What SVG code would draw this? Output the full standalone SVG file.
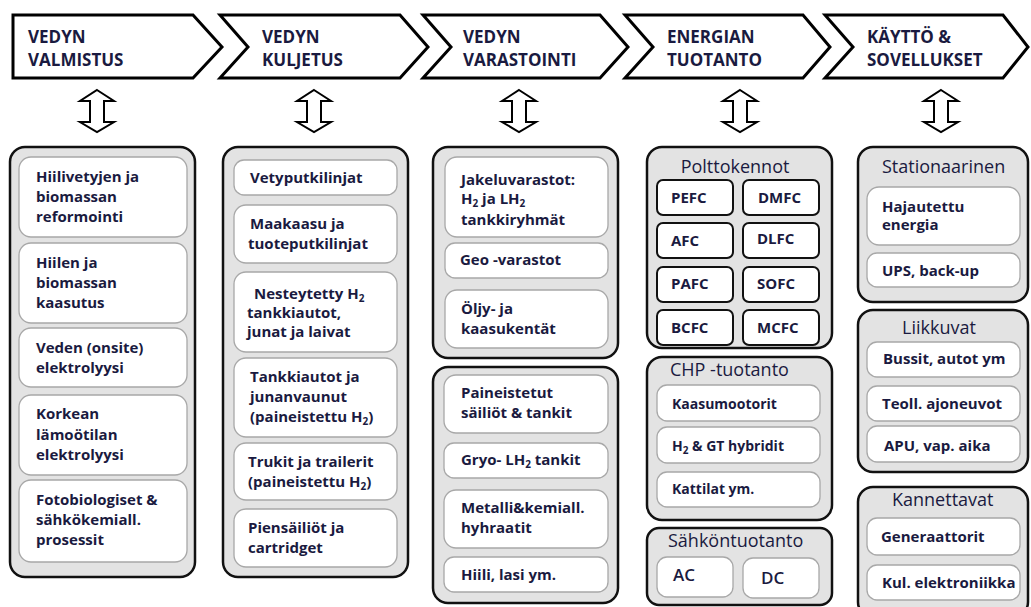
<svg xmlns="http://www.w3.org/2000/svg" width="1031" height="607" viewBox="0 0 1031 607">
<style>
.chev{fill:#fff;stroke:#000;stroke-width:3;stroke-linejoin:miter}
.hdr{font-family:"Open Sans",sans-serif;font-weight:bold;font-size:17px;fill:#1a1a40}
.outer{fill:#e3e3e3;stroke:#111;stroke-width:2.5}
.inner{fill:#fff;stroke:#a8a8a8;stroke-width:1.3}
.fc{fill:#fff;stroke:#111;stroke-width:2}
.t{font-family:"Open Sans",sans-serif;font-weight:bold;font-size:15px;fill:#1a1a40}
.s{font-size:14px}
.ttl{font-family:"Open Sans",sans-serif;font-weight:normal;font-size:18px;fill:#1a1a40}
.ac{font-family:"Open Sans",sans-serif;font-weight:600;font-size:17px;fill:#1a1a40}
.dbl{fill:#fff;stroke:#000;stroke-width:2;stroke-linejoin:miter}
.sub{font-size:10px}
</style>
<defs>
<path id="darr" d="M0,90 L17,101 L7,101 L7,122 L17,122 L0,132 L-17,122 L-7,122 L-7,101 L-17,101 Z"/>
</defs>

<g id="headers">
<g id="h1"><path class="chev" d="M13,15 L193,15 L222,47 L193,78 L13,78 Z"/><text class="hdr" x="28" y="43">VEDYN</text><text class="hdr" x="28" y="66">VALMISTUS</text></g>
<g id="h2"><path class="chev" d="M220,15 L400,15 L428,47 L400,78 L220,78 L248,47 Z"/><text class="hdr" x="262" y="43">VEDYN</text><text class="hdr" x="262" y="66">KULJETUS</text></g>
<g id="h3"><path class="chev" d="M423,15 L600,15 L628,47 L600,78 L423,78 L451,47 Z"/><text class="hdr" x="463" y="43">VEDYN</text><text class="hdr" x="463" y="66">VARASTOINTI</text></g>
<g id="h4"><path class="chev" d="M625,15 L803,15 L830,47 L803,78 L625,78 L653,47 Z"/><text class="hdr" x="667" y="43">ENERGIAN</text><text class="hdr" x="667" y="66">TUOTANTO</text></g>
<g id="h5"><path class="chev" d="M825,15 L1003,15 L1028,47 L1003,78 L825,78 L853,47 Z"/><text class="hdr" x="867" y="43">KÄYTTÖ &amp;</text><text class="hdr" x="867" y="66">SOVELLUKSET</text></g>
</g>

<g id="connectors">
<use href="#darr" class="dbl" x="97" y="0"/>
<use href="#darr" class="dbl" x="314" y="0"/>
<use href="#darr" class="dbl" x="519" y="0"/>
<use href="#darr" class="dbl" x="740" y="0"/>
<use href="#darr" class="dbl" x="941" y="0"/>
</g>

<g id="col1">
<rect class="outer" x="10" y="147" width="185" height="430" rx="15"/>
<g id="c1b1"><rect class="inner" x="19" y="157" width="168" height="80" rx="12"/><text class="t" x="36" y="182">Hiilivetyjen ja</text><text class="t" x="36" y="202">biomassan</text><text class="t" x="36" y="222">reformointi</text></g>
<g id="c1b2"><rect class="inner" x="19" y="243" width="168" height="80" rx="12"/><text class="t" x="36" y="268">Hiilen ja</text><text class="t" x="36" y="288">biomassan</text><text class="t" x="36" y="308">kaasutus</text></g>
<g id="c1b3"><rect class="inner" x="19" y="328" width="168" height="59" rx="12"/><text class="t" x="36" y="353">Veden (onsite)</text><text class="t" x="36" y="373">elektrolyysi</text></g>
<g id="c1b4"><rect class="inner" x="19" y="395" width="168" height="80" rx="12"/><text class="t" x="36" y="419">Korkean</text><text class="t" x="36" y="440">lämoötilan</text><text class="t" x="36" y="460">elektrolyysi</text></g>
<g id="c1b5"><rect class="inner" x="19" y="480" width="168" height="82" rx="12"/><text class="t" x="36" y="505">Fotobiologiset &amp;</text><text class="t" x="36" y="525">sähkökemiall.</text><text class="t" x="36" y="545">prosessit</text></g>
</g>

<g id="col2">
<rect class="outer" x="223" y="147" width="185" height="430" rx="15"/>
<g id="c2b1"><rect class="inner" x="234" y="160" width="163" height="35" rx="10"/><text class="t" x="250" y="183">Vetyputkilinjat</text></g>
<g id="c2b2"><rect class="inner" x="234" y="205" width="163" height="58" rx="12"/><text class="t" x="250" y="229">Maakaasu ja</text><text class="t" x="248" y="249">tuoteputkilinjat</text></g>
<g id="c2b3"><rect class="inner" x="234" y="272" width="163" height="80" rx="12"/><text class="t" x="254" y="299">Nesteytetty H<tspan class="sub" dy="3">2</tspan></text><text class="t" x="247" y="318">tankkiautot,</text><text class="t" x="247" y="337">junat ja laivat</text></g>
<g id="c2b4"><rect class="inner" x="234" y="358" width="163" height="79" rx="12"/><text class="t" x="250" y="382">Tankkiautot ja</text><text class="t" x="250" y="402">junanvaunut</text><text class="t" x="250" y="422">(paineistettu H<tspan class="sub" dy="3">2</tspan><tspan dy="-3">)</tspan></text></g>
<g id="c2b5"><rect class="inner" x="234" y="443" width="163" height="57" rx="12"/><text class="t" x="248" y="467">Trukit ja trailerit</text><text class="t" x="248" y="487">(paineistettu H<tspan class="sub" dy="3">2</tspan><tspan dy="-3">)</tspan></text></g>
<g id="c2b6"><rect class="inner" x="234" y="509" width="163" height="58" rx="12"/><text class="t" x="248" y="533">Piensäiliöt ja</text><text class="t" x="248" y="553">cartridget</text></g>
</g>

<g id="col3a">
<rect class="outer" x="433" y="147" width="185" height="211" rx="15"/>
<g id="c3b1"><rect class="inner" x="445" y="157" width="163" height="80" rx="12"/><text class="t" x="461" y="185">Jakeluvarastot:</text><text class="t" x="461" y="204">H<tspan class="sub" dy="3">2</tspan><tspan dy="-3"> ja LH</tspan><tspan class="sub" dy="3">2</tspan></text><text class="t" x="461" y="225">tankkiryhmät</text></g>
<g id="c3b2"><rect class="inner" x="445" y="243" width="163" height="35" rx="10"/><text class="t" x="460" y="265">Geo -varastot</text></g>
<g id="c3b3"><rect class="inner" x="445" y="290" width="163" height="58" rx="12"/><text class="t" x="461" y="314">Öljy- ja</text><text class="t" x="461" y="334">kaasukentät</text></g>
</g>

<g id="col3b">
<rect class="outer" x="433" y="367" width="185" height="236" rx="15"/>
<g id="c3b4"><rect class="inner" x="444" y="375" width="164" height="58" rx="12"/><text class="t" x="461" y="398">Paineistetut</text><text class="t" x="461" y="418">säiliöt &amp; tankit</text></g>
<g id="c3b5"><rect class="inner" x="444" y="443" width="164" height="35" rx="10"/><text class="t" x="461" y="465">Gryo- LH<tspan class="sub" dy="3">2</tspan><tspan dy="-3"> tankit</tspan></text></g>
<g id="c3b6"><rect class="inner" x="444" y="490" width="164" height="58" rx="12"/><text class="t" x="461" y="513">Metalli&amp;kemiall.</text><text class="t" x="461" y="533">hyhraatit</text></g>
<g id="c3b7"><rect class="inner" x="444" y="557" width="164" height="35" rx="10"/><text class="t" x="461" y="580">Hiili, lasi ym.</text></g>
</g>

<g id="polttokennot">
<rect class="outer" x="647" y="147" width="185" height="201" rx="15"/>
<text class="ttl" x="735" y="173" text-anchor="middle">Polttokennot</text>
<g id="pefc"><rect class="fc" x="657" y="180" width="76" height="35" rx="6"/><text class="t" x="671" y="203">PEFC</text></g>
<g id="dmfc"><rect class="fc" x="743" y="180" width="76" height="35" rx="6"/><text class="t" x="758" y="203">DMFC</text></g>
<g id="afc"><rect class="fc" x="657" y="223" width="76" height="35" rx="6"/><text class="t" x="671" y="246">AFC</text></g>
<g id="dlfc"><rect class="fc" x="743" y="223" width="76" height="35" rx="6"/><text class="t" x="757" y="244">DLFC</text></g>
<g id="pafc"><rect class="fc" x="657" y="267" width="76" height="35" rx="6"/><text class="t" x="671" y="289">PAFC</text></g>
<g id="sofc"><rect class="fc" x="743" y="267" width="76" height="35" rx="6"/><text class="t" x="757" y="289">SOFC</text></g>
<g id="bcfc"><rect class="fc" x="657" y="310" width="76" height="35" rx="6"/><text class="t" x="671" y="333">BCFC</text></g>
<g id="mcfc"><rect class="fc" x="743" y="310" width="76" height="35" rx="6"/><text class="t" x="757" y="333">MCFC</text></g>
</g>

<g id="chp">
<rect class="outer" x="647" y="357" width="185" height="163" rx="15"/>
<text class="ttl" x="670" y="376">CHP -tuotanto</text>
<g id="chp1"><rect class="inner" x="657" y="385" width="163" height="36" rx="10"/><text class="t s" x="672" y="409">Kaasumootorit</text></g>
<g id="chp2"><rect class="inner" x="657" y="427" width="163" height="36" rx="10"/><text class="t s" x="672" y="451">H<tspan class="sub" dy="3">2</tspan><tspan dy="-3"> &amp; GT hybridit</tspan></text></g>
<g id="chp3"><rect class="inner" x="657" y="472" width="163" height="35" rx="10"/><text class="t s" x="672" y="494">Kattilat ym.</text></g>
</g>

<g id="sahko">
<rect class="outer" x="647" y="528" width="185" height="77" rx="12"/>
<text class="ttl" x="668" y="547">Sähköntuotanto</text>
<g id="ac"><rect class="inner" x="657" y="557" width="76" height="40" rx="10"/><text class="ac" x="673" y="581">AC</text></g>
<g id="dc"><rect class="inner" x="743" y="558" width="76" height="40" rx="10"/><text class="ac" x="761" y="584">DC</text></g>
</g>

<g id="stationaarinen">
<rect class="outer" x="858" y="147" width="170" height="155" rx="15"/>
<text class="ttl" x="882" y="173">Stationaarinen</text>
<g id="st1"><rect class="inner" x="867" y="187" width="153" height="58" rx="12"/><text class="t" x="882" y="212">Hajautettu</text><text class="t" x="882" y="230">energia</text></g>
<g id="st2"><rect class="inner" x="867" y="253" width="153" height="34" rx="10"/><text class="t" x="882" y="276">UPS, back-up</text></g>
</g>

<g id="liikkuvat">
<rect class="outer" x="858" y="310" width="170" height="162" rx="15"/>
<text class="ttl" x="902" y="334">Liikkuvat</text>
<g id="li1"><rect class="inner" x="867" y="342" width="153" height="35" rx="10"/><text class="t" x="883" y="364">Bussit, autot ym</text></g>
<g id="li2"><rect class="inner" x="867" y="386" width="153" height="35" rx="10"/><text class="t" x="882" y="409">Teoll. ajoneuvot</text></g>
<g id="li3"><rect class="inner" x="867" y="426" width="153" height="36" rx="10"/><text class="t" x="884" y="451">APU, vap. aika</text></g>
</g>

<g id="kannettavat">
<rect class="outer" x="858" y="487" width="170" height="130" rx="15"/>
<text class="ttl" x="892" y="506">Kannettavat</text>
<g id="ka1"><rect class="inner" x="867" y="518" width="153" height="37" rx="10"/><text class="t" x="881" y="542">Generaattorit</text></g>
<g id="ka2"><rect class="inner" x="867" y="565" width="153" height="35" rx="10"/><text class="t" x="882" y="588">Kul. elektroniikka</text></g>
</g>
</svg>
